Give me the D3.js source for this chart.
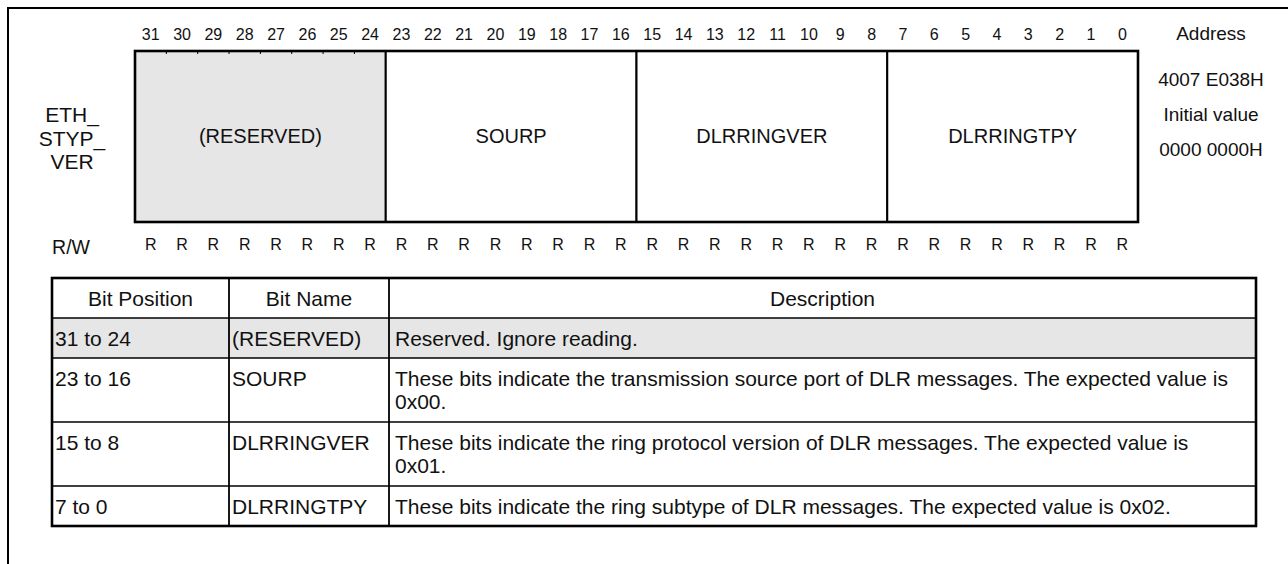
<!DOCTYPE html>
<html>
<head>
<meta charset="utf-8">
<script src="https://cdn.jsdelivr.net/npm/d3@7"></script>
<style>
  html, body { margin: 0; padding: 0; background: #fff; }
  svg { display: block; font-family: "Liberation Sans", Arial, sans-serif; }
</style>
</head>
<body>
<svg id="chart" width="1288" height="564"></svg>
<script>
// ---- data ----
const bits = [31,30,29,28,27,26,25,24,23,22,21,20,19,18,17,16,15,14,13,12,11,10,9,8,7,6,5,4,3,2,1,0];
const access = ["R","R","R","R","R","R","R","R","R","R","R","R","R","R","R","R","R","R","R","R","R","R","R","R","R","R","R","R","R","R","R","R"];
const fieldNames = ["(RESERVED)", "SOURP", "DLRRINGVER", "DLRRINGTPY"];
const fieldHigh = [31, 23, 15, 7];
const fieldLow = [24, 16, 8, 0];
const fieldReserved = [true, false, false, false];
const registerName = ["ETH_", "STYP_", "VER"];
const accessLabel = "R/W";
const addressInfo = ["Address", "4007 E038H", "Initial value", "0000 0000H"];
const tableHeaders = ["Bit Position", "Bit Name", "Description"];
const rowBitPositions = ["31 to 24", "23 to 16", "15 to 8", "7 to 0"];
const rowBitNames = ["(RESERVED)", "SOURP", "DLRRINGVER", "DLRRINGTPY"];
const rowDescriptions = [
  ["Reserved. Ignore reading."],
  ["These bits indicate the transmission source port of DLR messages. The expected value is", "0x00."],
  ["These bits indicate the ring protocol version of DLR messages. The expected value is", "0x01."],
  ["These bits indicate the ring subtype of DLR messages. The expected value is 0x02."]
];
const rowReserved = [true, false, false, false];

// ---- layout ----
const svg = d3.select("#chart");
const shade = "#e6e6e6";
const ink = "#111";

// outer frame (extends beyond the picture on right and bottom)
svg.append("rect").attr("x", 8).attr("y", 8).attr("width", 1300).attr("height", 600)
  .attr("fill", "none").attr("stroke", "#000").attr("stroke-width", 2);

const regTop = 51, regBottom = 222;
const x = d3.scaleBand().domain(bits).range([135, 1138]).padding(0);
const bw = x.bandwidth();

// register fields
const fields = fieldNames.map((n, i) => ({name: n, hi: fieldHigh[i], lo: fieldLow[i], res: fieldReserved[i]}));
const fg = svg.append("g");
fg.selectAll("rect").data(fields).join("rect")
  .attr("x", d => x(d.hi)).attr("y", regTop)
  .attr("width", d => x(d.lo) + bw - x(d.hi)).attr("height", regBottom - regTop)
  .attr("fill", d => d.res ? shade : "#fff")
  .attr("stroke", "#000").attr("stroke-width", 2);
// small bit ticks inside the reserved field
fields.filter(d => d.res).forEach(d => {
  const inner = bits.filter(b => b < d.hi && b >= d.lo);
  fg.selectAll(null).data(inner).join("line")
    .attr("x1", b => x(b)).attr("x2", b => x(b))
    .attr("y1", regTop).attr("y2", regTop + 3)
    .attr("stroke", "#000").attr("stroke-width", 1);
});
svg.append("rect").attr("x", x(31)).attr("y", regTop)
  .attr("width", x(0) + bw - x(31)).attr("height", regBottom - regTop)
  .attr("fill", "none").attr("stroke", "#000").attr("stroke-width", 2.6);
fg.selectAll("text").data(fields).join("text")
  .attr("x", d => (x(d.hi) + x(d.lo) + bw) / 2).attr("y", 143)
  .attr("text-anchor", "middle").attr("font-size", 20).attr("fill", ink)
  .text(d => d.name);

// bit number axis
const topAxis = svg.append("g").attr("transform", `translate(0,${regTop})`)
  .call(d3.axisTop(x).tickSize(0).tickPadding(11));
topAxis.select(".domain").remove();
topAxis.selectAll("text").attr("font-size", 16).attr("font-family", "Liberation Sans, Arial, sans-serif").attr("fill", ink);

// access axis
const accMap = new Map(bits.map((b, i) => [b, access[i]]));
const botAxis = svg.append("g").attr("transform", `translate(0,${regBottom})`)
  .call(d3.axisBottom(x).tickSize(0).tickPadding(17).tickFormat(b => accMap.get(b)));
botAxis.select(".domain").remove();
botAxis.selectAll("text").attr("font-size", 16).attr("font-family", "Liberation Sans, Arial, sans-serif").attr("fill", ink);

// register name
svg.append("g").selectAll("text").data(registerName).join("text")
  .attr("x", 72).attr("y", (d, i) => 122 + i * 23.5)
  .attr("text-anchor", "middle").attr("font-size", 21).attr("fill", ink).text(d => d);
svg.append("text").attr("x", 71).attr("y", 254).attr("text-anchor", "middle")
  .attr("font-size", 19.5).attr("fill", ink).text(accessLabel);

// address info
const addrY = [40, 86, 121, 156];
svg.append("g").selectAll("text").data(addressInfo).join("text")
  .attr("x", 1211).attr("y", (d, i) => addrY[i])
  .attr("text-anchor", "middle").attr("font-size", 19).attr("fill", ink).text(d => d);

// ---- table ----
const colEdges = [52, 229, 389, 1256];
const tTop = 278;
const headerH = 40;
const lineH = 23;
const rowH = lines => 40 + lineH * (lines - 1) + (lines > 1 ? 1 : 0);
const rows = rowBitPositions.map((p, i) => ({pos: p, name: rowBitNames[i], desc: rowDescriptions[i], res: rowReserved[i]}));
let yAcc = tTop + headerH;
rows.forEach(r => { r.y = yAcc; r.h = rowH(r.desc.length); yAcc += r.h; });
const tBottom = yAcc;
const tg = svg.append("g");
tg.selectAll("rect.row").data(rows).join("rect").attr("class", "row")
  .attr("x", colEdges[0]).attr("y", d => d.y).attr("width", colEdges[3] - colEdges[0]).attr("height", d => d.h)
  .attr("fill", d => d.res ? shade : "#fff");
tg.selectAll("line.h").data(rows).join("line").attr("class", "h")
  .attr("x1", colEdges[0]).attr("x2", colEdges[3]).attr("y1", d => d.y).attr("y2", d => d.y)
  .attr("stroke", "#000").attr("stroke-width", 1.6);
tg.selectAll("line.v").data(colEdges.slice(1, 3)).join("line").attr("class", "v")
  .attr("x1", d => d).attr("x2", d => d).attr("y1", tTop).attr("y2", tBottom)
  .attr("stroke", "#000").attr("stroke-width", 1.8);
tg.append("rect").attr("x", colEdges[0]).attr("y", tTop).attr("width", colEdges[3] - colEdges[0]).attr("height", tBottom - tTop)
  .attr("fill", "none").attr("stroke", "#000").attr("stroke-width", 2.6);
const cellFont = 21;
tg.selectAll("text.hd").data(tableHeaders).join("text").attr("class", "hd")
  .attr("x", (d, i) => (colEdges[i] + colEdges[i + 1]) / 2).attr("y", tTop + 28)
  .attr("text-anchor", "middle").attr("font-size", cellFont).attr("fill", ink).text(d => d);
tg.selectAll("text.pos").data(rows).join("text").attr("class", "pos")
  .attr("x", colEdges[0] + 3).attr("y", d => d.y + 28).attr("font-size", cellFont).attr("fill", ink).text(d => d.pos);
tg.selectAll("text.nm").data(rows).join("text").attr("class", "nm")
  .attr("x", colEdges[1] + 3).attr("y", d => d.y + 28).attr("font-size", cellFont).attr("fill", ink).text(d => d.name);
rows.forEach(r => {
  tg.append("g").selectAll("text").data(r.desc).join("text")
    .attr("x", colEdges[2] + 6).attr("y", (d, i) => r.y + 28 + i * lineH)
    .attr("font-size", cellFont).attr("fill", ink).text(d => d);
});
</script>
</body>
</html>
